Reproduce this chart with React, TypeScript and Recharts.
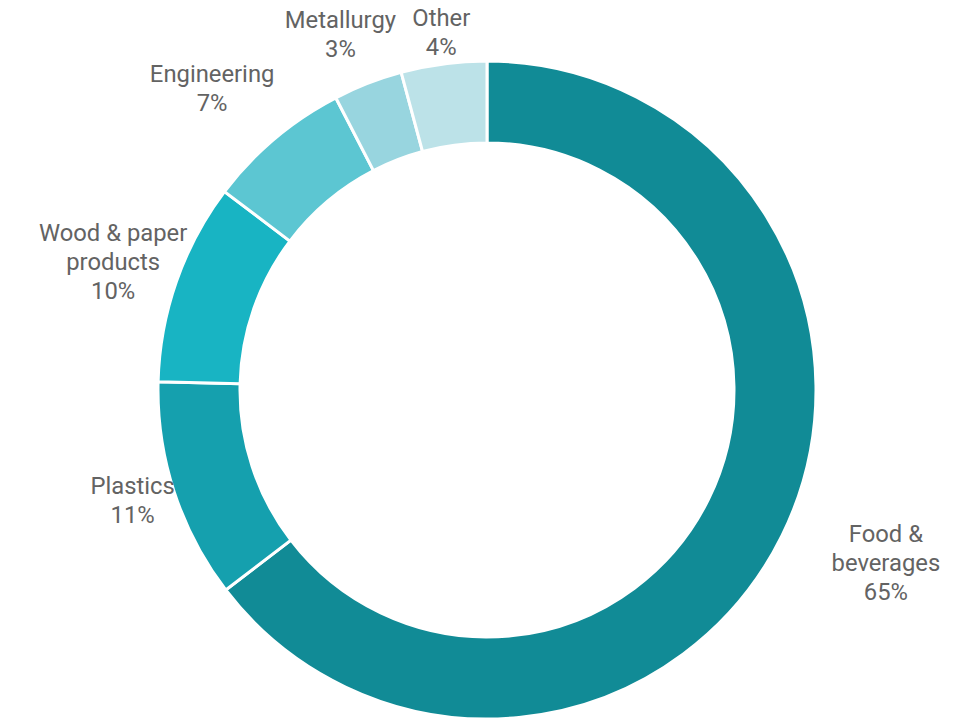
import React from "react";
import { PieChart, Pie, Cell } from "recharts";

const categories = ["Food & beverages", "Plastics", "Wood & paper products", "Engineering", "Metallurgy", "Other"];
const labelLines = [["Food &", "beverages"], ["Plastics"], ["Wood & paper", "products"], ["Engineering"], ["Metallurgy"], ["Other"]];
const shares = [64.6, 10.8, 9.9, 7.1, 3.4, 4.2];
const colors = ["#118B96", "#15A0AE", "#18B4C3", "#5CC6D2", "#98D5DF", "#BCE2E8"];

// layout-only nudges for label placement (radial px, then screen dx/dy px)
const labelNudge: Record<string, { r: number; dx: number; dy: number }> = {
  "Food & beverages": { r: 46, dx: 9, dy: -15 },
  Plastics: { r: -5, dx: 5, dy: 0 },
  "Wood & paper products": { r: 2, dx: 12, dy: -2 },
  Engineering: { r: 31, dx: 3.5, dy: 0 },
  Metallurgy: { r: 18, dx: 3, dy: 1 },
  Other: { r: -2, dx: 2, dy: 1 },
};

const data = categories.map((name, i) => ({ name, value: shares[i], lines: labelLines[i] }));

const FONT = 23.8;
const LINE_H = 29;
const RADIAN = Math.PI / 180;

const renderLabel = (props: any) => {
  const { cx, cy, midAngle, payload, value, name } = props;
  const lines: string[] = [...(payload?.lines ?? [name]), `${Math.round(value)}%`];
  const nudge = labelNudge[name] ?? { r: 0, dx: 0, dy: 0 };
  const cos = Math.cos(-midAngle * RADIAN);
  const sinDown = Math.sin(-midAngle * RADIAN);
  const r = 328 + 7 + nudge.r;
  const px = cx + r * cos;
  const py = cy + r * sinDown;
  const maxLen = Math.max(...lines.map((l) => l.length));
  const w = maxLen * 23 * 0.52;
  const h = lines.length * LINE_H;
  const lx = px + (cos * w) / 2 + nudge.dx;
  const ly = py + (sinDown * h) / 2 + nudge.dy;
  const top = ly - h / 2 + LINE_H / 2;
  return (
    <text
      x={lx}
      y={top}
      textAnchor="middle"
      dominantBaseline="central"
      fill="#636363"
      fontSize={FONT}
      fontFamily="Roboto, sans-serif"
    >
      {lines.map((l, i) => (
        <tspan key={i} x={lx} y={top + i * LINE_H}>
          {l}
        </tspan>
      ))}
    </text>
  );
};

export default function App() {
  return (
    <div style={{ position: "absolute", left: 0, top: 0, width: 968, height: 718, background: "#fff" }}>
      <PieChart width={968} height={718} margin={{ top: 0, right: 0, bottom: 0, left: 0 }}>
        <Pie
          data={data}
          dataKey="value"
          nameKey="name"
          cx={487}
          cy={390}
          innerRadius={247}
          outerRadius={329}
          startAngle={90}
          endAngle={-270}
          stroke="#ffffff"
          strokeWidth={3}
          label={renderLabel}
          labelLine={false}
          isAnimationActive={false}
        >
          {data.map((d, i) => (
            <Cell key={d.name} fill={colors[i]} />
          ))}
        </Pie>
      </PieChart>
    </div>
  );
}
